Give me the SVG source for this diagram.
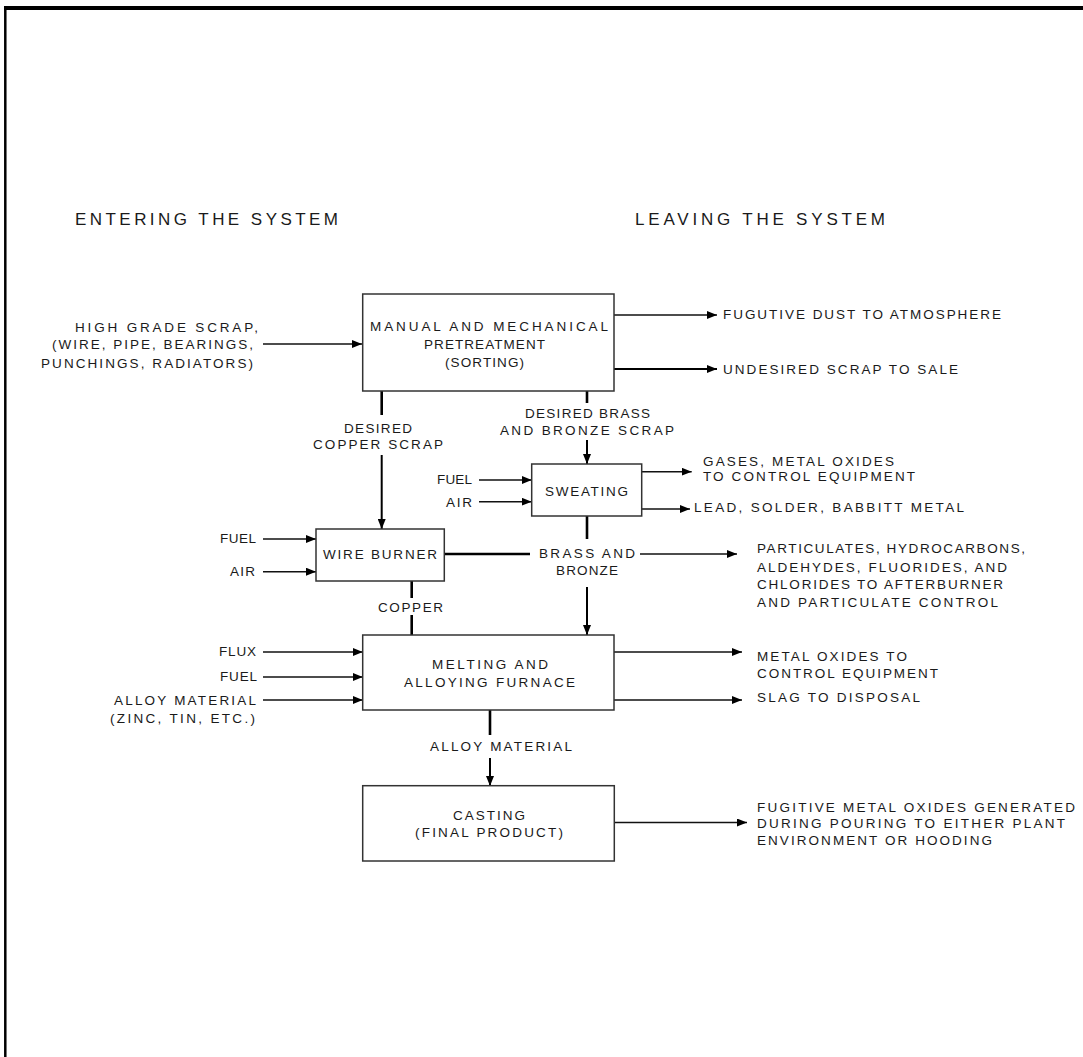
<svg xmlns="http://www.w3.org/2000/svg" width="1083" height="1057" viewBox="0 0 1083 1057">
<style>
.t{font-family:"Liberation Sans",Arial,sans-serif;font-size:13.5px;fill:#1a1a1a}
.h{font-family:"Liberation Sans",Arial,sans-serif;font-size:17px;fill:#1a1a1a}
.box{fill:#fff;stroke:#333;stroke-width:1.5}
.thin{fill:none;stroke:#111;stroke-width:1.5}
.thick{fill:none;stroke:#000;stroke-width:2.6}
.mid{fill:none;stroke:#000;stroke-width:2}
</style>
<defs>
<marker id="ah" markerUnits="userSpaceOnUse" markerWidth="10" markerHeight="8" refX="10" refY="4" orient="auto">
<path d="M0,0 L10,4 L0,8 z" fill="#000"/>
</marker>
</defs>
<rect width="1083" height="1057" fill="#fff"/>
<g id="frame">
<line x1="4" y1="8" x2="1083" y2="8" stroke="#000" stroke-width="4"/>
<line x1="5.3" y1="6" x2="5.3" y2="1057" stroke="#000" stroke-width="2.5"/>
</g>
<g id="headings">
<text class="h" x="75" y="225" textLength="263" lengthAdjust="spacing">ENTERING THE SYSTEM</text>
<text class="h" x="635" y="225" textLength="250" lengthAdjust="spacing">LEAVING THE SYSTEM</text>
</g>
<g id="connectors">
<path class="thin" d="M263,344 H362" marker-end="url(#ah)"/>
<path class="thin" d="M614,315 H717" marker-end="url(#ah)"/>
<path class="mid" d="M614,369 H717" marker-end="url(#ah)"/>
<path class="thick" d="M381.7,391 V415"/>
<path class="mid" d="M381.7,455 V529" marker-end="url(#ah)"/>
<path class="thick" d="M587,391 V403"/>
<path class="mid" d="M587,440 V464" marker-end="url(#ah)"/>
<path class="thin" d="M479,480 H531.7" marker-end="url(#ah)"/>
<path class="thin" d="M479,501.7 H531.7" marker-end="url(#ah)"/>
<path class="thin" d="M641.7,471.7 H691.7" marker-end="url(#ah)"/>
<path class="thin" d="M641.7,509 H690" marker-end="url(#ah)"/>
<path class="thin" d="M263,539 H316" marker-end="url(#ah)"/>
<path class="thin" d="M263,571.7 H316" marker-end="url(#ah)"/>
<path class="thick" d="M444.3,554 H530"/>
<path class="thin" d="M640,554 H737" marker-end="url(#ah)"/>
<path class="thick" d="M587,516 V539"/>
<path class="mid" d="M587,587 V635" marker-end="url(#ah)"/>
<path class="thick" d="M411.7,581 V598"/>
<path class="thick" d="M411.7,615 V635"/>
<path class="thin" d="M263,652 H362.7" marker-end="url(#ah)"/>
<path class="thin" d="M263,677 H362.7" marker-end="url(#ah)"/>
<path class="thin" d="M263,700 H362.7" marker-end="url(#ah)"/>
<path class="thin" d="M614,652 H742" marker-end="url(#ah)"/>
<path class="thin" d="M614,700 H742" marker-end="url(#ah)"/>
<path class="thick" d="M490,710 V735"/>
<path class="mid" d="M490,758 V786" marker-end="url(#ah)"/>
<path class="thin" d="M614,822.5 H747" marker-end="url(#ah)"/>
</g>
<g id="labels">
<text class="t" x="75" y="331.7" textLength="183" lengthAdjust="spacing">HIGH GRADE SCRAP,</text>
<text class="t" x="52" y="348.9" textLength="201" lengthAdjust="spacing">(WIRE, PIPE, BEARINGS,</text>
<text class="t" x="41" y="367.6" textLength="212" lengthAdjust="spacing">PUNCHINGS, RADIATORS)</text>
<text class="t" x="723" y="319.2" textLength="278" lengthAdjust="spacing">FUGUTIVE DUST TO ATMOSPHERE</text>
<text class="t" x="723" y="373.9" textLength="235" lengthAdjust="spacing">UNDESIRED SCRAP TO SALE</text>
<text class="t" x="344" y="432.9" textLength="68" lengthAdjust="spacing">DESIRED</text>
<text class="t" x="313" y="448.9" textLength="130" lengthAdjust="spacing">COPPER SCRAP</text>
<text class="t" x="525" y="417.9" textLength="125" lengthAdjust="spacing">DESIRED BRASS</text>
<text class="t" x="500" y="434.9" textLength="174" lengthAdjust="spacing">AND BRONZE SCRAP</text>
<text class="t" x="437" y="484.2" textLength="35" lengthAdjust="spacing">FUEL</text>
<text class="t" x="446" y="506.6" textLength="26" lengthAdjust="spacing">AIR</text>
<text class="t" x="703" y="465.6" textLength="191" lengthAdjust="spacing">GASES, METAL OXIDES</text>
<text class="t" x="703" y="480.9" textLength="212" lengthAdjust="spacing">TO CONTROL EQUIPMENT</text>
<text class="t" x="694" y="511.9" textLength="270" lengthAdjust="spacing">LEAD, SOLDER, BABBITT METAL</text>
<text class="t" x="220" y="542.6" textLength="36" lengthAdjust="spacing">FUEL</text>
<text class="t" x="230" y="575.6" textLength="25" lengthAdjust="spacing">AIR</text>
<text class="t" x="539" y="557.7" textLength="96" lengthAdjust="spacing">BRASS AND</text>
<text class="t" x="556" y="574.9" textLength="62" lengthAdjust="spacing">BRONZE</text>
<text class="t" x="757" y="552.9" textLength="268" lengthAdjust="spacing">PARTICULATES, HYDROCARBONS,</text>
<text class="t" x="757" y="571.6" textLength="250" lengthAdjust="spacing">ALDEHYDES, FLUORIDES, AND</text>
<text class="t" x="757" y="588.9" textLength="246" lengthAdjust="spacing">CHLORIDES TO AFTERBURNER</text>
<text class="t" x="757" y="606.6" textLength="241" lengthAdjust="spacing">AND PARTICULATE CONTROL</text>
<text class="t" x="378" y="611.6" textLength="65" lengthAdjust="spacing">COPPER</text>
<text class="t" x="219" y="655.6" textLength="37" lengthAdjust="spacing">FLUX</text>
<text class="t" x="220" y="680.6" textLength="37" lengthAdjust="spacing">FUEL</text>
<text class="t" x="114" y="704.9" textLength="142" lengthAdjust="spacing">ALLOY MATERIAL</text>
<text class="t" x="110" y="722.9" textLength="145" lengthAdjust="spacing">(ZINC, TIN, ETC.)</text>
<text class="t" x="757" y="660.6" textLength="150" lengthAdjust="spacing">METAL OXIDES TO</text>
<text class="t" x="757" y="677.9" textLength="181" lengthAdjust="spacing">CONTROL EQUIPMENT</text>
<text class="t" x="757" y="701.9" textLength="163" lengthAdjust="spacing">SLAG TO DISPOSAL</text>
<text class="t" x="430" y="750.9" textLength="142" lengthAdjust="spacing">ALLOY MATERIAL</text>
<text class="t" x="757" y="811.6" textLength="318" lengthAdjust="spacing">FUGITIVE METAL OXIDES GENERATED</text>
<text class="t" x="757" y="828.2" textLength="308" lengthAdjust="spacing">DURING POURING TO EITHER PLANT</text>
<text class="t" x="757" y="844.9" textLength="235" lengthAdjust="spacing">ENVIRONMENT OR HOODING</text>
</g>
<g id="pretreatment">
<rect class="box" x="362.7" y="294" width="251.3" height="97"/>
<text class="t" x="370" y="330.9" textLength="238" lengthAdjust="spacing">MANUAL AND MECHANICAL</text>
<text class="t" x="424" y="348.9" textLength="121" lengthAdjust="spacing">PRETREATMENT</text>
<text class="t" x="445" y="366.7" textLength="79" lengthAdjust="spacing">(SORTING)</text>
</g>
<g id="sweating">
<rect class="box" x="531.7" y="464" width="110" height="52"/>
<text class="t" x="545" y="495.6" textLength="83" lengthAdjust="spacing">SWEATING</text>
</g>
<g id="wire-burner">
<rect class="box" x="316" y="529" width="128.3" height="52"/>
<text class="t" x="323" y="558.9" textLength="114" lengthAdjust="spacing">WIRE BURNER</text>
</g>
<g id="melting">
<rect class="box" x="362.7" y="635" width="251.3" height="75"/>
<text class="t" x="432" y="668.9" textLength="116" lengthAdjust="spacing">MELTING AND</text>
<text class="t" x="404" y="686.6" textLength="171" lengthAdjust="spacing">ALLOYING FURNACE</text>
</g>
<g id="casting">
<rect class="box" x="362.7" y="785.7" width="251.6" height="75.3"/>
<text class="t" x="453" y="819.9" textLength="72" lengthAdjust="spacing">CASTING</text>
<text class="t" x="415" y="836.9" textLength="148" lengthAdjust="spacing">(FINAL PRODUCT)</text>
</g>
</svg>
